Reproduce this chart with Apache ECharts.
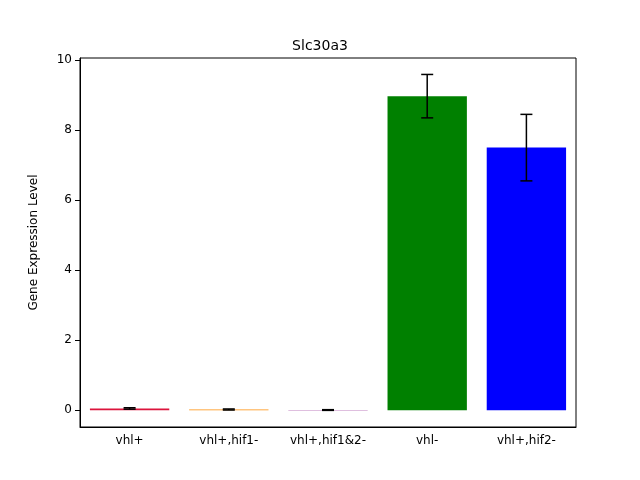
<!DOCTYPE html>
<html><head><meta charset="utf-8">
<script src="https://cdn.jsdelivr.net/npm/echarts@6/dist/echarts.min.js"></script>
<style>html,body{margin:0;background:#fff}#c{width:640px;height:480px}</style>
</head><body><div id="c"></div>
<script>
const categories = ['vhl+', 'vhl+,hif1-', 'vhl+,hif1&2-', 'vhl-', 'vhl+,hif2-'];
const values = [0.05, 0.02, 0.005, 8.97, 7.5];
const errors = [0.02, 0.015, 0.01, 0.62, 0.95];
const colors = ['#dc143c', '#ff8c00', '#800080', '#008000', '#0000ff'];
const yTicks = [0, 2, 4, 6, 8, 10];

const chart = echarts.init(document.getElementById('c'));
chart.setOption({
  animation: false,
  title: {text: 'Slc30a3', left: 'center', top: 34, textStyle: {fontFamily: 'DejaVu Sans', fontSize: 14, fontWeight: 'normal', color: '#000'}},
  grid: {left: 80, right: 64, top: 58, bottom: 53},
  xAxis: {
    type: 'category', data: categories,
    axisLine: {onZero: false, lineStyle: {color: '#000'}},
    axisTick: {alignWithLabel: true, lineStyle: {color: '#000'}},
    axisLabel: {color: '#000', fontFamily: 'DejaVu Sans', fontSize: 12, margin: 8},
    splitLine: {show: false}
  },
  yAxis: {
    type: 'value', min: -0.48, max: 10.06,
    name: 'Gene Expression Level', nameLocation: 'middle', nameGap: 40,
    nameTextStyle: {color: '#000', fontFamily: 'DejaVu Sans', fontSize: 12},
    axisLine: {show: true, lineStyle: {color: '#000'}},
    axisTick: {show: true, customValues: yTicks, lineStyle: {color: '#000'}},
    axisLabel: {customValues: yTicks, color: '#000', fontFamily: 'DejaVu Sans', fontSize: 12},
    splitLine: {show: false}
  },
  series: [{
    type: 'bar', barWidth: '80%',
    data: values.map((v, i) => ({value: v, itemStyle: {color: colors[i]}}))
  }, {
    type: 'custom',
    renderItem: (params, api) => {
      const i = api.value(0), v = api.value(1), e = api.value(2);
      const hi = api.coord([i, v + e]), lo = api.coord([i, v - e]);
      const w = 6, s = {stroke: '#000', lineWidth: 1.5};
      return {type: 'group', children: [
        {type: 'line', shape: {x1: hi[0], y1: hi[1], x2: lo[0], y2: lo[1]}, style: s},
        {type: 'line', shape: {x1: hi[0] - w, y1: hi[1], x2: hi[0] + w, y2: hi[1]}, style: s},
        {type: 'line', shape: {x1: lo[0] - w, y1: lo[1], x2: lo[0] + w, y2: lo[1]}, style: s}
      ]};
    },
    data: values.map((v, i) => [i, v, errors[i]]),
    z: 10
  }]
});
// box: top and right frame lines
chart.setOption({graphic: [{type: 'rect', shape: {x: 80, y: 58, width: 496, height: 369}, style: {fill: 'none', stroke: '#000', lineWidth: 1}, silent: true}]});
</script></body></html>
